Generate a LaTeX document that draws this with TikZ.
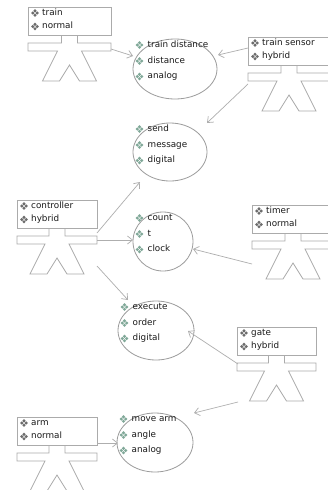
\documentclass[tikz,border=0pt]{standalone}
\usepackage{fontspec}
\setmainfont{DejaVu Sans}
\usetikzlibrary{arrows.meta,shapes.geometric}
\definecolor{shapegray}{HTML}{ABABAB}
\definecolor{ellgray}{HTML}{9C9C9C}
\definecolor{arrgray}{HTML}{AEAEAE}
\definecolor{boxicon}{HTML}{6C6C6C}
\definecolor{ellicon}{HTML}{80A898}
\definecolor{txt}{HTML}{1A1A1A}
\tikzset{
 actorline/.style={draw=shapegray, line width=0.8pt, line join=miter},
 actorbox/.style={rectangle, draw=shapegray, line width=0.8pt, minimum height=28pt, inner sep=0pt},
 ellnode/.style={ellipse, draw=ellgray, line width=0.8pt, inner sep=0pt},
 lbl/.style={font=\fontsize{8.8}{10}\selectfont, text=txt, anchor=west, inner sep=0pt, text height=6.5pt, text depth=1.6pt},
 conn/.style={draw=arrgray, line width=0.7pt, -{Straight Barb[length=5pt,width=8pt]}},
 pics/dicon/.style={code={
   \foreach \dx/\dy in {0/2.2,0/-2.2,2.2/0,-2.2/0}{
     \fill[#1] ({\dx-1.7},{\dy}) -- ({\dx},{\dy-1.7}) -- ({\dx+1.7},{\dy}) -- ({\dx},{\dy+1.7}) -- cycle;}
 }}
}
% #1 name, #2 left, #3 top, #4 width, #5 #6 texts
\newcommand{\actorfig}[6]{%
 \node[actorbox, minimum width=#4pt, anchor=north west] (#1) at (#2,#3) {};
 \pic at ({#2+7},{#3+6}) {dicon=boxicon};
 \pic at ({#2+7},{#3+19.5}) {dicon=boxicon};
 \node[lbl] (#1-a) at ({#2+14},{#3+6}) {#5};
 \node[lbl] (#1-b) at ({#2+14},{#3+19.5}) {#6};
 \draw[actorline] ({#2+#4/2-8},{#3+28}) -- ({#2+#4/2-8},{#3+36}) -- ({#2},{#3+36})
   -- ({#2},{#3+44}) -- ({#2+#4/2-12},{#3+44}) -- ({#2+#4/2-27},{#3+74})
   -- ({#2+#4/2-10},{#3+74}) -- ({#2+#4/2},{#3+58}) -- ({#2+#4/2+10},{#3+74})
   -- ({#2+#4/2+27},{#3+74}) -- ({#2+#4/2+12},{#3+44}) -- ({#2+#4},{#3+44})
   -- ({#2+#4},{#3+36}) -- ({#2+#4/2+8},{#3+36}) -- ({#2+#4/2+8},{#3+28});
}
% #1 name, #2 cx, #3 cy, #4 rx, #5 ry, #6 #7 #8 texts
\newcommand{\ellfig}[8]{%
 \node[ellnode, minimum width={2*#4pt}, minimum height={2*#5pt}] (#1) at (#2,#3) {};
 \pic at ({#2-#4+6.5},{#3-#5+6}) {dicon=ellicon};
 \pic at ({#2-#4+6.5},{#3-#5+22}) {dicon=ellicon};
 \pic at ({#2-#4+6.5},{#3-#5+37.5}) {dicon=ellicon};
 \node[lbl] (#1-a) at ({#2-#4+14.5},{#3-#5+6}) {#6};
 \node[lbl] (#1-b) at ({#2-#4+14.5},{#3-#5+22}) {#7};
 \node[lbl] (#1-c) at ({#2-#4+14.5},{#3-#5+37.5}) {#8};
}
\begin{document}
\begin{tikzpicture}[x=1pt,y=-1pt]
\useasboundingbox (0,0) rectangle (328,490);
\clip (0,0) rectangle (328,490);
\fill[white] (0,0) rectangle (328,490);

\actorfig{train}{28}{7}{83}{train}{normal}
\actorfig{sensor}{248}{37}{82}{train sensor}{hybrid}
\actorfig{controller}{17}{200}{80}{controller}{hybrid}
\actorfig{timer}{252}{205}{82}{timer}{normal}
\actorfig{gate}{237}{327}{79}{gate}{hybrid}
\actorfig{arm}{17}{417}{80}{arm}{normal}

\ellfig{e1}{175}{69}{42}{30}{train distance}{distance}{analog}
\ellfig{e2}{170}{152}{37}{29}{send}{message}{digital}
\ellfig{e3}{163}{241.5}{30}{29.5}{count}{t}{clock}
\ellfig{e4}{156}{330.5}{38}{29.5}{execute}{order}{digital}
\ellfig{e5}{155}{442.5}{38}{29.5}{move arm}{angle}{analog}

\coordinate (a1s) at (111,49);  \coordinate (a1e) at (133,56);
\coordinate (a2s) at (248,48);  \coordinate (a2e) at (218,55);
\coordinate (a3s) at (248,84);  \coordinate (a3e) at (207,123);
\coordinate (a4s) at (97,233);  \coordinate (a4e) at (140,182);
\coordinate (a5s) at (97,240);  \coordinate (a5e) at (133,240);
\coordinate (a6s) at (97,266);  \coordinate (a6e) at (128,300);
\coordinate (a7s) at (252,264); \coordinate (a7e) at (193,249);
\coordinate (a8s) at (238,364); \coordinate (a8e) at (188,331);
\coordinate (a9s) at (238,402); \coordinate (a9e) at (194,413);
\coordinate (a10s) at (97,443); \coordinate (a10e) at (118,443);

\foreach \i in {1,...,10}{\draw[conn] (a\i s) -- (a\i e);}
\end{tikzpicture}
\end{document}
